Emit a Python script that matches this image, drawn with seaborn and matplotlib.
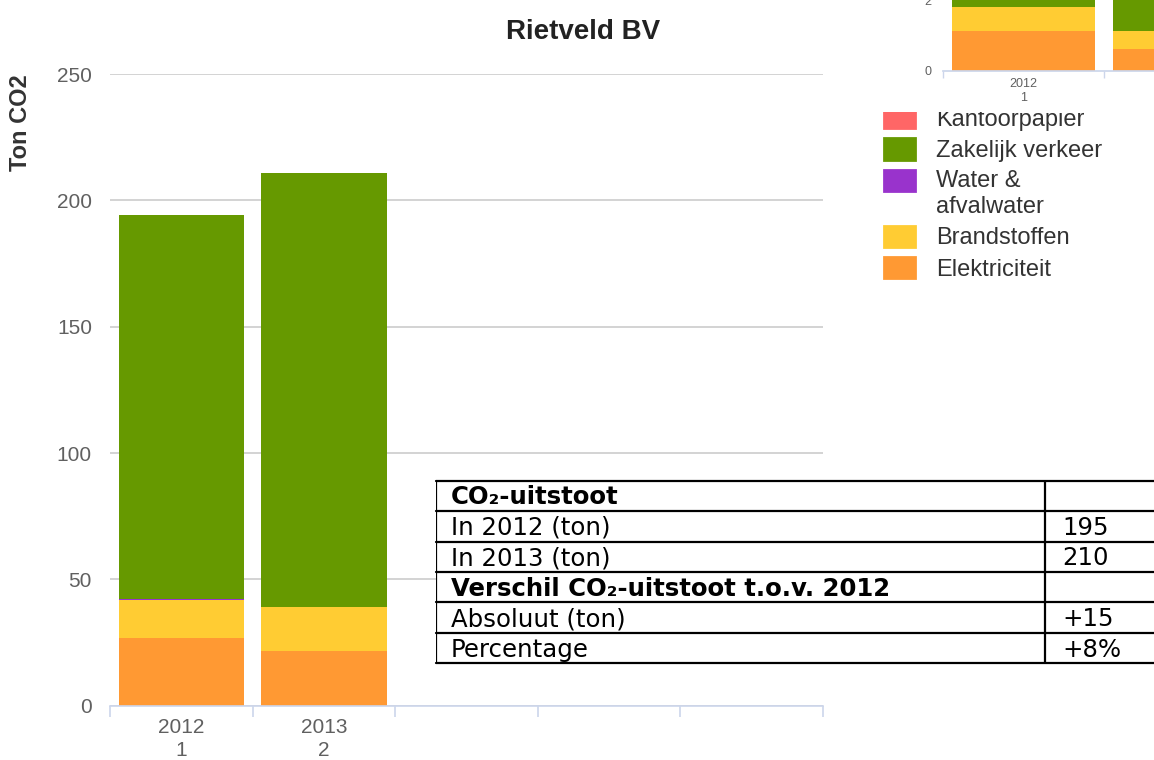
import numpy as np
import pandas as pd
import matplotlib
matplotlib.use("Agg")
import matplotlib.pyplot as plt
from matplotlib.patches import Patch, Rectangle
from matplotlib.legend_handler import HandlerPatch
import seaborn as sns

# Data
slot_labels = ["2012\n1", "2013\n2"]
kantoorpapier = [0.0, 0.0]
zakelijk_verkeer = [151.9, 171.6]
water = [0.5, 0.0]
brandstoffen = [15.1, 17.4]
elektriciteit = [26.7, 21.8]

# small inset chart (top right, cut off in the screenshot)
inset_labels = ["2012\n1", "2013\n2"]
inset_elektriciteit = [1.14, 0.61]
inset_brandstoffen = [0.69, 0.53]
inset_water = [0.0, 0.0]
inset_zakelijk = [4.6, 4.9]
inset_kantoor = [0.0, 0.0]

series_names = ["Kantoorpapier", "Zakelijk verkeer", "Water & afvalwater",
                "Brandstoffen", "Elektriciteit"]
legend_labels = ["Kantoorpapier", "Zakelijk verkeer", "Water &\nafvalwater",
                 "Brandstoffen", "Elektriciteit"]
colors = {"Kantoorpapier": "#ff6666", "Zakelijk verkeer": "#669900",
          "Water & afvalwater": "#9933cc", "Brandstoffen": "#ffcc33",
          "Elektriciteit": "#ff9933"}

table_rows = ["CO₂-uitstoot", "In 2012 (ton)", "In 2013 (ton)",
              "Verschil CO₂-uitstoot t.o.v. 2012", "Absoluut (ton)", "Percentage"]
table_values = ["", "195", "210", "", "+15", "+8%"]
table_bold = [True, False, False, True, False, False]

sns.set_theme(style="white")
plt.rcParams["font.family"] = ["Liberation Sans", "DejaVu Sans"]

W, H = 1154, 760
fig = plt.figure(figsize=(W / 100, H / 100), dpi=100)


def fx(px):
    return px / W


def fy(py):
    return 1 - py / H


def stacked(ax, labels, layers, width):
    # layers bottom -> top, draw cumulative from the top down
    df = pd.DataFrame({"jaar": labels})
    cum = np.zeros(len(labels))
    cols = []
    for name, vals in layers:
        cum = cum + np.asarray(vals)
        df[name] = cum
        cols.append(name)
    for name in reversed(cols):
        sns.barplot(data=df, x="jaar", y=name, color=colors[name], width=width,
                    saturation=1, errorbar=None, linewidth=0, ax=ax)


# %% main chart
ax = fig.add_axes([fx(110), fy(705.7), fx(823 - 110), (705.7 - 74) / H])
stacked(ax, slot_labels, [("Elektriciteit", elektriciteit),
                          ("Brandstoffen", brandstoffen),
                          ("Water & afvalwater", water),
                          ("Zakelijk verkeer", zakelijk_verkeer),
                          ("Kantoorpapier", kantoorpapier)], 0.88)
ax.set_xlim(-0.5, 4.5)
ax.set_ylim(0, 250)
ax.set_yticks(range(0, 251, 50))
ax.yaxis.grid(True, color="#cccccc", linewidth=1.2)
ax.set_axisbelow(True)
for s in ["top", "right", "left"]:
    ax.spines[s].set_visible(False)
ax.spines["bottom"].set_color("#ccd6eb")
ax.spines["bottom"].set_linewidth(1.2)
ax.set_xticks([0, 1], slot_labels)
ax.set_xticks(np.arange(-0.5, 4.6, 1), minor=True)
ax.tick_params(axis="x", which="major", length=0, pad=9, labelsize=15,
               labelcolor="#606060")
ax.tick_params(axis="x", which="minor", length=8, width=1.2, color="#ccd6eb",
               direction="out", bottom=True)
ax.tick_params(axis="y", length=0, pad=13, labelsize=15, labelcolor="#606060")
for t in ax.get_xticklabels():
    t.set_linespacing(1.25)
ax.set_xlabel("")
ax.set_ylabel("Ton CO2", loc="top", fontsize=17, fontweight="bold", color="#333333")
ax.yaxis.set_label_coords((32 - 110) / 713, 1.0)

fig.text(fx(583.5), fy(32), "Rietveld BV", ha="center", va="center",
         fontsize=20, fontweight="bold", color="#222222")


# %% legend (top partly hidden behind the inset)
def first_line_patch(legend, orig_handle, xdescent, ydescent, width, height, fontsize):
    # keep the colour box level with the first line of a two-line label
    p = Rectangle((-xdescent, -ydescent), width, height)
    if orig_handle.get_label() == "two_lines":
        p.set_y(-ydescent + 0.6 * fontsize)
    return p


handles = []
for name, lab in zip(series_names, legend_labels):
    handles.append(Patch(facecolor=colors[name], edgecolor=colors[name],
                         linewidth=2, joinstyle="round",
                         label="two_lines" if "\n" in lab else name))
leg = fig.legend(handles, legend_labels, loc="upper left",
                 bbox_to_anchor=(fx(884), fy(107)), frameon=False,
                 fontsize=17, handlelength=1.3, handleheight=1.0,
                 handletextpad=0.9, labelspacing=0.33, borderpad=0,
                 borderaxespad=0, labelcolor="#333333",
                 handler_map={Patch: HandlerPatch(patch_func=first_line_patch)})
for t in leg.get_texts():
    t.set_linespacing(1.23)
leg.set_zorder(5)
fig.add_artist(Rectangle((fx(860), fy(112)), fx(W - 860), 112 / H,
                         transform=fig.transFigure, facecolor="white",
                         edgecolor="none", zorder=6))

# %% inset chart
px_unit = 34.9
slot_px = 161.3
axi = fig.add_axes([fx(942.7), fy(70.7), fx(2 * slot_px), 2.6 * px_unit / H],
                   zorder=10)
stacked(axi, inset_labels, [("Elektriciteit", inset_elektriciteit),
                            ("Brandstoffen", inset_brandstoffen),
                            ("Water & afvalwater", inset_water),
                            ("Zakelijk verkeer", inset_zakelijk),
                            ("Kantoorpapier", inset_kantoor)], 0.89)
axi.set_xlim(-0.5, 1.5)
axi.set_ylim(0, 2.6)
axi.set_yticks([0, 2])
for s in ["top", "right", "left"]:
    axi.spines[s].set_visible(False)
axi.spines["bottom"].set_color("#ccd6eb")
axi.set_xticks([0, 1], inset_labels)
axi.set_xticks([-0.5, 0.5, 1.5], minor=True)
axi.tick_params(axis="x", which="major", length=0, pad=5, labelsize=9,
                labelcolor="#606060")
axi.tick_params(axis="x", which="minor", length=5, color="#ccd6eb", bottom=True)
axi.tick_params(axis="y", length=0, pad=8, labelsize=9, labelcolor="#606060")
for t in axi.get_xticklabels():
    t.set_linespacing(1.3)
axi.set_xlabel("")
axi.set_ylabel("")

# %% table
tab_left, tab_top, tab_bottom = 436, 480.7, 663.3
tab_w = W + 60 - tab_left
axt = fig.add_axes([fx(tab_left), fy(tab_bottom), fx(tab_w), (tab_bottom - tab_top) / H],
                   zorder=8)
axt.set_xlim(0, tab_w)
axt.set_ylim(len(table_rows), 0)
axt.set_xticks([])
axt.set_yticks([])
for s in axt.spines.values():
    s.set_visible(False)
axt.set_facecolor("white")
for i in range(len(table_rows) + 1):
    axt.axhline(i, color="black", linewidth=1.6, clip_on=False)
axt.axvline(0, color="black", linewidth=1.6)
axt.axvline(1045 - tab_left, color="black", linewidth=1.6)
for i, (lab, val, b) in enumerate(zip(table_rows, table_values, table_bold)):
    axt.text(15, i + 0.78, lab, fontsize=17.6, family="DejaVu Sans",
             fontweight="bold" if b else "normal", va="baseline", color="black")
    axt.text(1045 - tab_left + 17, i + 0.78, val, fontsize=17.6, family="DejaVu Sans",
             va="baseline", color="black")

fig.savefig("out.png", dpi=100)
